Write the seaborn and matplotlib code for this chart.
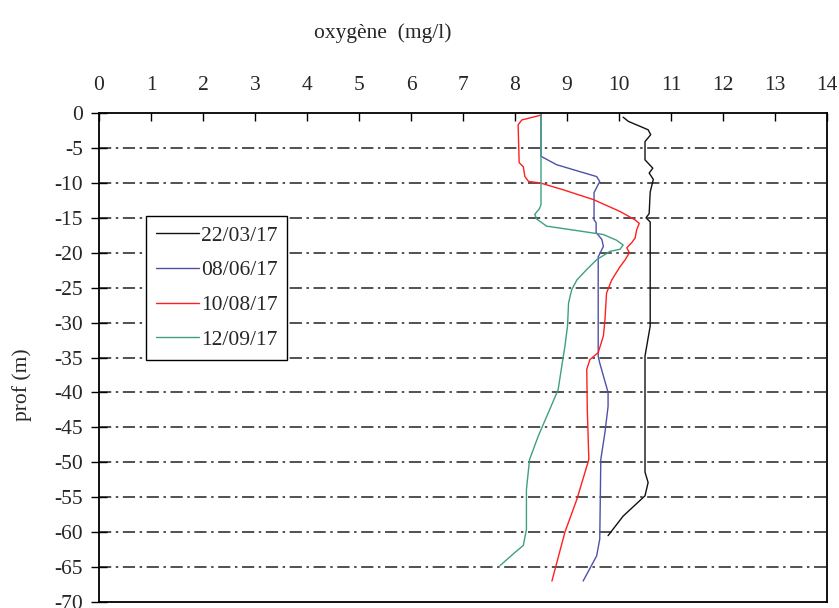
import matplotlib
matplotlib.use("Agg")
import matplotlib.pyplot as plt
import seaborn as sns
import pandas as pd

# Dissolved oxygen profiles (mg/l) against depth (m)
dates = ["22/03/17", "08/06/17", "10/08/17", "12/09/17"]
colors = ["#111111", "#5050a8", "#ff1f1f", "#3f9f82"]

depth_0322 = [-0.6, -1.2, -2.4, -3.1, -4.1, -6.7, -7.9, -8.6, -9.5, -11.3, -14.4, -15.0,
              -15.6, -30.5, -34.8, -51.4, -52.9, -54.8, -57.7, -60.5]
oxy_0322 = [10.08, 10.18, 10.56, 10.61, 10.5, 10.5, 10.65, 10.58, 10.66, 10.6, 10.58, 10.52,
            10.6, 10.6, 10.5, 10.5, 10.56, 10.5, 10.08, 9.79]

depth_0806 = [0, -6.2, -7.4, -8.4, -9.1, -9.8, -11.4, -15.3, -15.7, -17.1, -18.1, -19.1, -20.6,
              -34.8, -35.8, -40.0, -42.0, -45.7, -49.6, -61.0, -63.4, -67.0]
oxy_0806 = [8.5, 8.5, 8.8, 9.25, 9.57, 9.63, 9.52, 9.52, 9.56, 9.56, 9.67, 9.7, 9.6,
            9.6, 9.63, 9.79, 9.79, 9.73, 9.65, 9.63, 9.57, 9.31]

depth_1008 = [-0.3, -1.0, -1.7, -7.1, -7.7, -9.1, -9.8, -10.0, -11.0, -12.4, -14.1, -15.3, -15.8,
              -16.7, -17.9, -18.6, -19.3, -20.0, -21.0, -22.0, -23.9, -25.8, -29.6, -31.9,
              -34.3, -35.3, -36.7, -42.4, -49.6, -55.3, -60.0, -67.0]
oxy_1008 = [8.5, 8.13, 8.06, 8.08, 8.16, 8.19, 8.26, 8.48, 8.93, 9.51, 10.02, 10.31, 10.39,
            10.34, 10.31, 10.24, 10.15, 10.2, 10.12, 10.02, 9.86, 9.76, 9.73, 9.7,
            9.6, 9.44, 9.38, 9.39, 9.42, 9.19, 8.96, 8.71]

depth_1209 = [0, -13.1, -13.7, -14.5, -15.2, -16.2, -16.9, -17.4, -18.2, -18.9, -19.5, -19.8,
              -21.0, -22.4, -23.9, -25.3, -27.2, -30.5, -33.4, -36.2, -39.6, -42.4, -46.2,
              -49.6, -53.9, -59.6, -61.9, -62.9, -64.8]
oxy_1209 = [8.5, 8.5, 8.47, 8.38, 8.42, 8.61, 9.25, 9.7, 9.95, 10.08, 10.02, 9.83,
            9.57, 9.38, 9.19, 9.09, 9.03, 9.01, 8.96, 8.9, 8.83, 8.67, 8.45,
            8.28, 8.22, 8.22, 8.16, 8.0, 7.71]

x_ticks = list(range(0, 15))
y_ticks = list(range(0, -75, -5))

profiles = [(depth_0322, oxy_0322), (depth_0806, oxy_0806),
            (depth_1008, oxy_1008), (depth_1209, oxy_1209)]
frames = []
for d, (dep, oxy) in zip(dates, profiles):
    frames.append(pd.DataFrame({"date": d, "prof": dep, "oxy": oxy}))
df = pd.concat(frames, ignore_index=True)

sns.set_theme(style="white")
plt.rcParams["font.family"] = ["Liberation Serif", "DejaVu Serif"]
plt.rcParams["axes.unicode_minus"] = False

fig = plt.figure(figsize=(8.39, 6.08), dpi=100)
ax = fig.add_axes([99 / 839, 1 - 602 / 608, (827 - 99) / 839, (602 - 113) / 608])

sns.lineplot(data=df, x="oxy", y="prof", hue="date", hue_order=dates,
             palette=dict(zip(dates, colors)), sort=False, estimator=None,
             units="date", linewidth=1.0, ax=ax)

ax.set_xlim(0, 14)
ax.set_ylim(-70, 0)
ax.set_xticks(x_ticks)
ax.set_yticks(y_ticks)
ax.xaxis.tick_top()
ax.tick_params(axis="x", direction="in", length=6, width=1.0, color="black",
               labelsize=15.5, pad=13, top=True, bottom=False)
ax.tick_params(axis="y", direction="inout", length=11, width=1.0, color="black",
               labelsize=15.5, pad=6, left=True)
ax.set_xlabel("")
ax.set_ylabel("")

for s in ax.spines.values():
    s.set_color("black")
    s.set_linewidth(1.3)

for yv in y_ticks[1:-1]:
    ax.axhline(yv, color="#222222", linewidth=1.1,
               linestyle=(0, (8, 3, 1.6, 3)), zorder=0)

fig.text(383 / 839, 1 - 33 / 608, "oxyg\u00e8ne  (mg/l)", ha="center", va="center",
         fontsize=15.5)
fig.text(22 / 839, 1 - 385 / 608, "prof (m)", ha="center", va="center",
         rotation=90, fontsize=15.5)

leg = ax.legend(loc="upper left", bbox_to_anchor=((146 - 99) / 728, (602 - 216) / 489),
                frameon=True, fancybox=False, fontsize=15.5, handlelength=2.0,
                handletextpad=0.1, borderpad=0.45, labelspacing=0.68,
                borderaxespad=0, title=None)
leg.get_frame().set_edgecolor("black")
leg.get_frame().set_linewidth(1.0)
leg.get_frame().set_alpha(1)
for line in leg.get_lines():
    line.set_linewidth(1.0)

fig.savefig("out.png", dpi=100)
